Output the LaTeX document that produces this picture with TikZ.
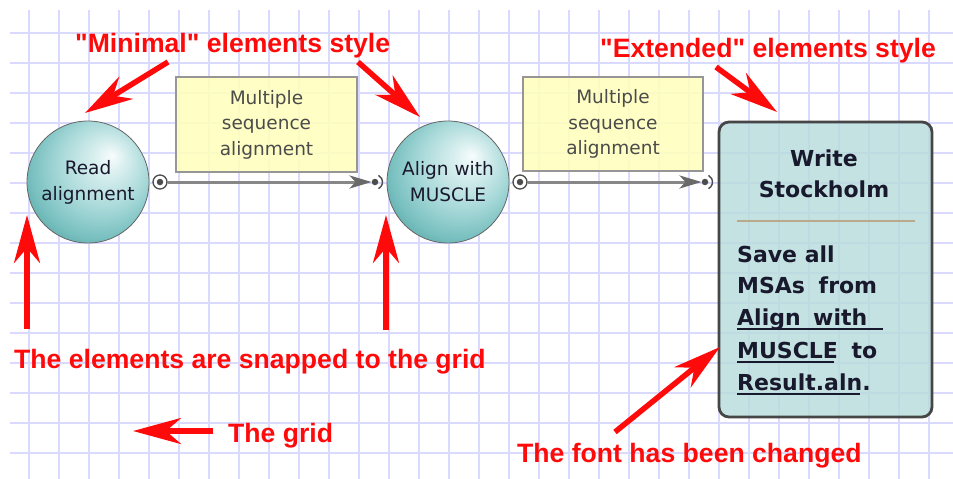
\documentclass[tikz,border=0pt]{standalone}
\usepackage{fontspec}
\setmainfont{DejaVu Sans}
\newfontfamily\arialfont{Liberation Sans}
\usetikzlibrary{arrows.meta}
\definecolor{gridc}{RGB}{218,218,255}
\definecolor{annot}{RGB}{255,10,10}
\definecolor{msafill}{RGB}{255,255,190}
\definecolor{msadraw}{RGB}{150,150,150}
\definecolor{msatext}{RGB}{75,75,75}
\definecolor{extfill}{RGB}{184,220,220}
\definecolor{extdraw}{RGB}{70,70,70}
\definecolor{sepc}{RGB}{185,170,140}
\definecolor{conn}{RGB}{135,135,135}
\definecolor{connhead}{RGB}{105,105,105}
\definecolor{nodetext}{RGB}{25,25,45}
\pgfdeclareradialshading{tealball}{\pgfpoint{10bp}{11bp}}{%
  rgb(0bp)=(0.97,0.99,0.99);
  rgb(6bp)=(0.86,0.94,0.94);
  rgb(18bp)=(0.66,0.85,0.85);
  rgb(28bp)=(0.47,0.75,0.75);
  rgb(36bp)=(0.30,0.62,0.62);
  rgb(50bp)=(0.26,0.58,0.58)}
\newcommand\myul[2]{\setbox0\hbox{#1}\rlap{\rule[-4.5pt]{#2}{1.8pt}}\box0\relax}
\tikzset{
  gridline/.style={draw=gridc, line width=1.3pt},
  minimal/.style={circle, minimum size=122pt, inner sep=0pt, draw=black!60, line width=0.8pt,
    shading=tealball, text=nodetext, align=center,
    font=\fontsize{18.5}{26}\selectfont},
  msabox/.style={rectangle, draw=msadraw, line width=2pt, fill=msafill, fill opacity=0.88,
    text opacity=1, text=msatext, align=center, inner sep=0pt,
    font=\fontsize{18.5}{25.5}\selectfont},
  extbox/.style={rectangle, rounded corners=10pt, draw=extdraw, line width=2.8pt,
    fill=extfill, fill opacity=0.82, inner sep=0pt},
  exttitle/.style={text=nodetext, inner sep=0pt, font=\bfseries\fontsize{22}{31}\selectfont, align=center},
  extbody/.style={text=nodetext, inner sep=0pt, font=\bfseries\fontsize{22}{32}\selectfont, anchor=base west},
  outport/.style={circle, draw=black!70, line width=1.3pt, fill=white, minimum size=14pt, inner sep=0pt},
  inport/.style={circle, fill=black!70, minimum size=6.5pt, inner sep=0pt},
  portdot/.style={circle, fill=black!70, minimum size=6.5pt, inner sep=0pt},
  connline/.style={draw=conn, line width=3pt, -{Stealth[length=22pt,width=13pt,inset=6pt,color=connhead]}},
  annot/.style={text=annot, inner sep=0pt, anchor=base west, font=\arialfont\bfseries\fontsize{26.6}{30}\selectfont},
  annotarrow/.style={draw=annot, line width=5.5pt, -{Stealth[length=48pt,width=26pt,inset=15pt]}},
}
\begin{document}
\begin{tikzpicture}[x=1pt,y=-1pt]
\useasboundingbox (0,0) rectangle (953,479);
\fill[white] (0,0) rectangle (953,479);
% grid
\foreach \gx in {29,59,...,929} \draw[gridline] (\gx,10) -- (\gx,479);
\foreach \gy in {33,63,...,453} \draw[gridline] (10,\gy) -- (953,\gy);

% yellow labels
\node[msabox, minimum width=181pt, minimum height=95pt] (msa1) at (266.5,124.5) {Multiple\\sequence\\alignment};
\node[msabox, minimum width=180pt, minimum height=94pt] (msa2) at (613,124) {Multiple\\sequence\\alignment};

% minimal elements
\node[minimal] (read) at (88,182) {Read\\alignment};
\node[minimal] (align) at (448,182) {Align with\\MUSCLE};

% extended element
\node[extbox, minimum width=213pt, minimum height=295pt] (write) at (825.5,269.5) {};
\node[exttitle, anchor=base] (wt1) at (824,166) {Write};
\node[exttitle, anchor=base] (wt2) at (824,197) {Stockholm};
\coordinate (sepL) at (737,221);
\coordinate (sepR) at (915,221);
\draw[draw=sepc, line width=1.2pt] (sepL) -- (sepR);
\node[extbody] (b1) at (737,262) {Save all};
\node[extbody] (b2) at (737,293) {\makebox[140pt][s]{MSAs from}};
\node[extbody] (b3) at (737,325) {\myul{\makebox[130pt][s]{Align with}}{146pt}};
\node[extbody] (b4) at (737,358) {\makebox[140pt][s]{\myul{MUSCLE}{97pt} to}};
\node[extbody] (b5) at (737,390) {\myul{Result.aln}{123pt}.};

% ports
\node[outport] (o1) at (160,182) {};
\node[portdot] at (o1) {};
\node[inport] (i1) at (375,182) {};
\draw[black!70, line width=1.4pt] ([shift={(-62:7.5pt)}]i1.center) arc[start angle=-62, end angle=62, radius=7.5pt];
\node[outport] (o2) at (520,182) {};
\node[portdot] at (o2) {};
\node[inport] (i2) at (705,182) {};
\draw[black!70, line width=1.4pt] ([shift={(-62:7.5pt)}]i2.center) arc[start angle=-62, end angle=62, radius=7.5pt];

% connectors
\draw[connline] (o1) -- (i1);
\draw[connline] (o2) -- (i2);

% annotations
\node[annot] (tmin) at (75,52) {"Minimal" elements style};
\node[annot] (tex) at (600,57) {"Extended" elements style};
\node[annot] (tsnap) at (14,368) {The elements are snapped to the grid};
\node[annot] (tgrid) at (228,442) {The grid};
\node[annot] (tfont) at (517,462) {The font has been changed};

\coordinate (a1s) at (168,62);  \coordinate (a1e) at (85,113);
\coordinate (a2s) at (358,62);  \coordinate (a2e) at (420,117);
\coordinate (a3s) at (716,67);  \coordinate (a3e) at (777,112);
\coordinate (a4s) at (27,329);  \coordinate (a4e) at (27,215);
\coordinate (a5s) at (386,330); \coordinate (a5e) at (386,215);
\coordinate (a6s) at (213,431); \coordinate (a6e) at (133,431);
\coordinate (a7s) at (615,432); \coordinate (a7e) at (720,347);
\foreach \a in {1,...,7} \draw[annotarrow] (a\a s) -- (a\a e);
\end{tikzpicture}
\end{document}
